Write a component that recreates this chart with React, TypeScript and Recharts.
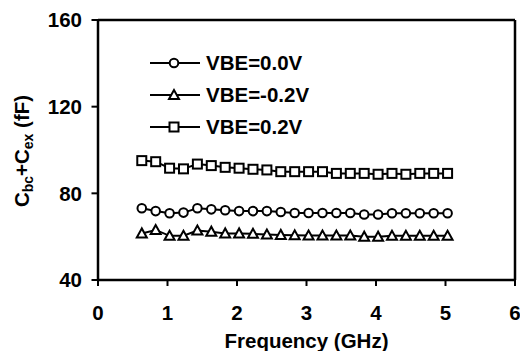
import React from 'react';
import { Line, LineChart, ReferenceLine, XAxis, YAxis } from 'recharts';

// Cbc+Cex vs frequency for three base-emitter biases.
const FREQ = [
  0.63, 0.83, 1.03, 1.23, 1.43, 1.63, 1.83, 2.03, 2.23, 2.43, 2.63, 2.83, 3.03, 3.23, 3.43, 3.63,
  3.83, 4.03, 4.23, 4.43, 4.63, 4.83, 5.03,
];
const VBE_ZERO = [
  73.1, 71.8, 70.8, 71.1, 73.1, 72.6, 72.2, 71.8, 71.8, 71.8, 71.4, 70.9, 70.9, 70.9, 70.9, 70.9,
  70.2, 70.2, 70.8, 70.8, 70.8, 70.8, 70.8,
];
const VBE_NEG = [
  61.5, 63.1, 60.4, 60.4, 62.8, 62.3, 61.5, 61.5, 61.3, 61.0, 60.8, 60.6, 60.5, 60.5, 60.5, 60.5,
  60.0, 60.0, 60.4, 60.4, 60.4, 60.4, 60.4,
];
const VBE_POS = [
  95.1, 94.6, 91.6, 91.3, 93.5, 92.8, 92.0, 91.6, 91.1, 90.8, 90.0, 90.0, 90.0, 90.0, 89.2, 89.2,
  89.2, 88.8, 89.2, 88.8, 89.2, 89.2, 89.2,
];
const X_TICKS = [0, 1, 2, 3, 4, 5, 6];
const Y_TICKS = [40, 80, 120, 160];

const FONT = '"Liberation Sans", Arial, sans-serif';
const FS = 20.5;

type Shape = 'circle' | 'triangle' | 'square';

const SERIES: { key: string; label: string; shape: Shape }[] = [
  { key: 'zero', label: 'VBE=0.0V', shape: 'circle' },
  { key: 'neg', label: 'VBE=-0.2V', shape: 'triangle' },
  { key: 'pos', label: 'VBE=0.2V', shape: 'square' },
];

const data = FREQ.map((f, i) => ({ f, zero: VBE_ZERO[i], neg: VBE_NEG[i], pos: VBE_POS[i] }));

const Marker = ({ shape, cx, cy }: { shape: Shape; cx: number; cy: number }) => {
  const common = { fill: '#fff', stroke: '#000', strokeWidth: 2 };
  if (shape === 'circle') return <circle cx={cx} cy={cy} r={4.3} {...common} />;
  if (shape === 'square') return <rect x={cx - 4.5} y={cy - 4.5} width={9} height={9} {...common} />;
  return (
    <polygon points={`${cx},${cy - 5} ${cx - 5},${cy + 4} ${cx + 5},${cy + 4}`} {...common} />
  );
};

const dotFor = (shape: Shape) => (props: any) => {
  const { cx, cy, index } = props;
  if (cx == null || cy == null) return <g key={index} />;
  return <Marker key={index} shape={shape} cx={cx} cy={cy} />;
};

// legend drawn as an overlay, the way the original figure floats it inside the plot
const LegendBox = () => (
  <svg width={200} height={100} style={{ position: 'absolute', left: 150, top: 52 }}>
    {SERIES.map((s, i) => {
      const y = 11 + i * 32;
      return (
        <g key={s.key}>
          <line x1={0} y1={y} x2={50} y2={y} stroke="#000" strokeWidth={2.2} />
          <Marker shape={s.shape} cx={24} cy={y} />
          <text
            x={56}
            y={y}
            dy="0.36em"
            fontFamily={FONT}
            fontWeight="bold"
            fontSize={FS}
            fill="#000"
          >
            {s.label}
          </text>
        </g>
      );
    })}
  </svg>
);

const YLabel = () => (
  <text
    transform="translate(22,151) rotate(-90)"
    textAnchor="middle"
    dy="0.36em"
    fontFamily={FONT}
    fontWeight="bold"
    fontSize={FS}
    fill="#000"
  >
    C<tspan fontSize={14} dy={4}>bc</tspan>
    <tspan dy={-4}>+C</tspan>
    <tspan fontSize={14} dy={4}>ex</tspan>
    <tspan dy={-4}> (fF)</tspan>
  </text>
);

const tickStyle = { fontFamily: FONT, fontWeight: 'bold', fontSize: FS, fill: '#000' };

export default function App() {
  return (
    <div style={{ position: 'absolute', left: 0, top: 0, width: 520, height: 351, background: '#fff' }}>
      <LineChart
        width={520}
        height={351}
        data={data}
        margin={{ top: 20, right: 5, left: 0, bottom: 0 }}
      >
        <XAxis
          dataKey="f"
          type="number"
          domain={[0, 6]}
          ticks={X_TICKS}
          tick={tickStyle}
          tickSize={6}
          tickMargin={19}
          height={71}
          axisLine={{ stroke: '#000', strokeWidth: 2.5 }}
          tickLine={{ stroke: '#000', strokeWidth: 2 }}
          label={{
            value: 'Frequency (GHz)',
            position: 'insideBottom',
            offset: 3,
            style: { fontFamily: FONT, fontWeight: 'bold', fontSize: FS, fill: '#000' },
          }}
        />
        <YAxis
          type="number"
          domain={[40, 160]}
          ticks={Y_TICKS}
          tick={tickStyle}
          tickSize={6.5}
          tickMargin={9.5}
          width={98}
          axisLine={{ stroke: '#000', strokeWidth: 2.5 }}
          tickLine={{ stroke: '#000', strokeWidth: 2 }}
          label={<YLabel />}
        />
        <ReferenceLine y={160} stroke="#000" strokeWidth={2.5} />
        <ReferenceLine x={6} stroke="#000" strokeWidth={2.5} />
        {SERIES.map((s) => (
          <Line
            key={s.key}
            dataKey={s.key}
            name={s.label}
            type="linear"
            stroke="#000"
            strokeWidth={2}
            dot={dotFor(s.shape)}
            activeDot={false}
            isAnimationActive={false}
          />
        ))}
      </LineChart>
      <LegendBox />
    </div>
  );
}
